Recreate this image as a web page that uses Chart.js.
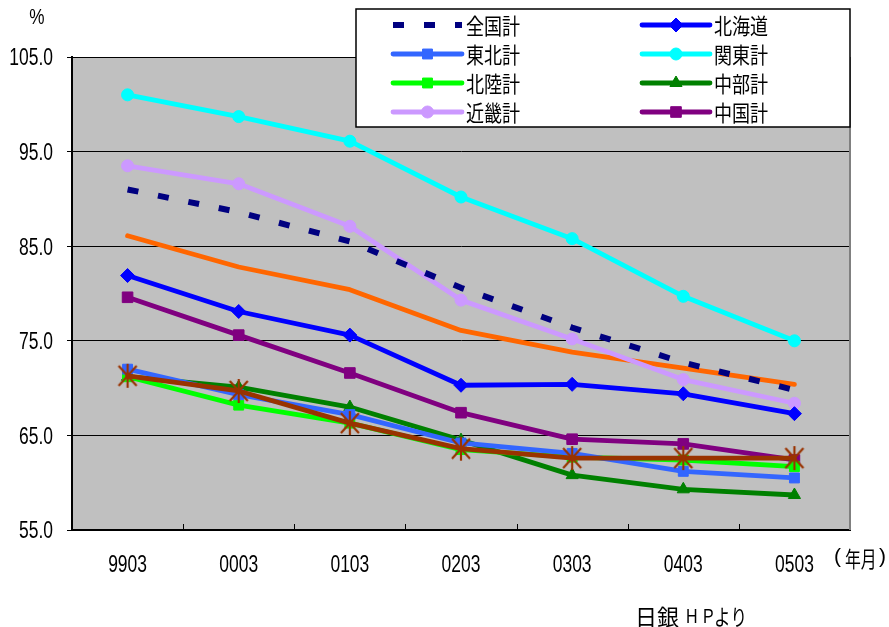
<!DOCTYPE html>
<html>
<head>
<meta charset="utf-8">
<script src="https://cdn.jsdelivr.net/npm/chart.js@4.4.1/dist/chart.umd.min.js"></script>
<style>
  html, body { margin: 0; padding: 0; background: #fff; }
  canvas { display: block; }
</style>
</head>
<body>
<canvas id="c" width="889" height="627"></canvas>
<script>
// 年月 (YYMM)
const categories = ['9903', '0003', '0103', '0203', '0303', '0403', '0503'];

// 地域別の値 (%)
const zenkoku  = [91.0, 88.6, 85.5, 80.6, 76.4, 72.7, 69.8];
const hokkaido = [81.9, 78.1, 75.6, 70.3, 70.4, 69.4, 67.3];
const tohoku   = [72.0, 69.3, 67.2, 64.2, 63.1, 61.2, 60.5];
const kanto    = [101.0, 98.7, 96.1, 90.2, 85.8, 79.7, 75.0];
const hokuriku = [71.2, 68.2, 66.3, 63.5, 62.7, 62.4, 61.7];
const chubu    = [71.2, 70.1, 68.0, 64.5, 60.8, 59.3, 58.7];
const kinki    = [93.5, 91.6, 87.1, 79.3, 75.2, 70.9, 68.4];
const chugoku  = [79.6, 75.6, 71.6, 67.4, 64.6, 64.1, 62.4];
const shikoku  = [86.1, 82.8, 80.4, 76.1, 73.8, 72.1, 70.4];
const kyushu   = [71.3, 69.7, 66.3, 63.6, 62.6, 62.6, 62.6];

// y 軸目盛
const yMin = 55, yMax = 105, yStep = 10;

const NUM_FONT = '"Liberation Sans", Arial, sans-serif';
const JP_FONT = '"Noto Sans CJK JP", sans-serif';

// 横幅を詰めた文字列を描く
function drawText(ctx, str, x, y, font, sx, align) {
  ctx.save();
  ctx.font = font;
  ctx.textAlign = align || 'left';
  ctx.textBaseline = 'middle';
  ctx.translate(x, y);
  ctx.scale(sx, 1);
  ctx.fillText(str, 0, 0);
  ctx.restore();
}

// 九州計の星形マーカー (× に縦線)
function starMarker(color) {
  const c = document.createElement('canvas');
  c.width = 22; c.height = 26;
  const g = c.getContext('2d');
  g.strokeStyle = color;
  g.lineWidth = 2.2;
  g.beginPath();
  g.moveTo(2, 3);  g.lineTo(20, 23);
  g.moveTo(20, 3); g.lineTo(2, 23);
  g.moveTo(11, 1); g.lineTo(11, 25);
  g.stroke();
  return c;
}

function series(label, data, color, style, radius, extra) {
  return Object.assign({
    label, data,
    borderColor: color,
    backgroundColor: color,
    borderWidth: 4.8,
    borderJoinStyle: 'round',
    borderCapStyle: 'round',
    pointStyle: style,
    pointRadius: radius,
    pointBackgroundColor: color,
    pointBorderColor: color,
    pointBorderWidth: 1,
    tension: 0,
    inLegend: true
  }, extra || {});
}

const datasets = [
  series('全国計', zenkoku, '#000080', false, 0, { borderWidth: 6, borderDash: [11, 20], borderCapStyle: 'butt' }),
  series('北海道', hokkaido, '#0000FF', 'rectRot', 7),
  series('東北計', tohoku, '#3366FF', 'rect', 7),
  series('関東計', kanto, '#00FFFF', 'circle', 6),
  series('北陸計', hokuriku, '#00FF00', 'rect', 7),
  series('中部計', chubu, '#008000', 'triangle', 7),
  series('近畿計', kinki, '#CC99FF', 'circle', 6),
  series('中国計', chugoku, '#800080', 'rect', 7.5),
  series('四国計', shikoku, '#FF6600', false, 0, { inLegend: false }),
  series('九州計', kyushu, '#993300', starMarker('#993300'), 11, { inLegend: false, order: -1 })
];

// 描画領域の背景・枠・内向き目盛
const plotFrame = {
  id: 'plotFrame',
  beforeDraw(chart) {
    const { ctx, chartArea: a } = chart;
    ctx.save();
    ctx.fillStyle = '#C0C0C0';
    ctx.fillRect(a.left, a.top, a.right - a.left, a.bottom - a.top);
    ctx.restore();
  },
  beforeDatasetsDraw(chart) {
    const { ctx, chartArea: a } = chart;
    ctx.save();
    ctx.strokeStyle = '#808080';
    ctx.lineWidth = 2;
    ctx.beginPath();
    ctx.moveTo(a.right, a.top);
    ctx.lineTo(a.right, a.bottom);
    ctx.stroke();
    ctx.strokeStyle = '#000';
    ctx.lineWidth = 1;
    const n = categories.length;
    const w = (a.right - a.left) / n;
    ctx.beginPath();
    for (let i = 1; i < n; i++) {
      const x = Math.round(a.left + i * w) + 0.5;
      ctx.moveTo(x, a.bottom - 6);
      ctx.lineTo(x, a.bottom);
    }
    ctx.stroke();
    ctx.restore();
  }
};

// 軸の目盛ラベル (細身の数字)
const axisLabels = {
  id: 'axisLabels',
  afterDraw(chart) {
    const ctx = chart.ctx;
    const xs = chart.scales.x, ys = chart.scales.y;
    ctx.save();
    ctx.fillStyle = '#000';
    ys.ticks.forEach(t => {
      drawText(ctx, Number(t.value).toFixed(1), 53, ys.getPixelForValue(t.value) + 2, '23px ' + NUM_FONT, 0.76, 'right');
    });
    categories.forEach((c, i) => {
      drawText(ctx, c, xs.getPixelForValue(i), 566, '23px ' + NUM_FONT, 0.76, 'center');
    });
    ctx.restore();
  }
};

// 凡例ボックスと注記
const boxLegend = {
  id: 'boxLegend',
  afterDraw(chart) {
    const ctx = chart.ctx;
    const L = 356, T = 9, R = 850, B = 127;
    ctx.save();
    ctx.fillStyle = '#fff';
    ctx.fillRect(L, T, R - L, B - T);
    ctx.strokeStyle = '#000';
    ctx.lineWidth = 1.5;
    ctx.strokeRect(L, T, R - L, B - T);

    const rows = [25, 54, 83, 112];
    const cols = [{ x0: 393, x1: 462, tx: 466 }, { x0: 642, x1: 710, tx: 714 }];
    let k = 0;
    chart.data.datasets.forEach(ds => {
      if (!ds.inLegend) return;
      const c = cols[k % 2], y = rows[Math.floor(k / 2)];
      k++;
      ctx.save();
      ctx.strokeStyle = ds.borderColor;
      ctx.lineWidth = ds.borderWidth;
      ctx.setLineDash(ds.borderDash || []);
      ctx.lineCap = ds.borderDash ? 'butt' : 'round';
      ctx.beginPath();
      ctx.moveTo(c.x0, y);
      ctx.lineTo(c.x1, y);
      ctx.stroke();
      ctx.restore();
      if (ds.pointRadius > 0) {
        ctx.save();
        ctx.fillStyle = ds.pointBackgroundColor;
        ctx.strokeStyle = ds.pointBorderColor;
        ctx.lineWidth = 1;
        Chart.helpers.drawPoint(ctx, { pointStyle: ds.pointStyle, radius: ds.pointRadius, rotation: 0, borderWidth: 1 }, (c.x0 + c.x1) / 2, y);
        ctx.restore();
      }
      ctx.fillStyle = '#000';
      drawText(ctx, ds.label, c.tx, y + 1, '22px ' + JP_FONT, 0.82, 'left');
    });

    // 単位・軸注記・出典
    ctx.fillStyle = '#000';
    drawText(ctx, '%', 37, 18, '22px ' + NUM_FONT, 0.78, 'center');
    drawText(ctx, '(', 834, 557, '21px ' + NUM_FONT, 1, 'left');
    drawText(ctx, '年月', 845, 559, '22px ' + JP_FONT, 0.72, 'left');
    drawText(ctx, ')', 879, 557, '21px ' + NUM_FONT, 1, 'left');

    drawText(ctx, '日銀', 635, 617, '22px ' + JP_FONT, 1, 'left');
    drawText(ctx, 'H', 686, 617, '20px ' + NUM_FONT, 0.8, 'left');
    drawText(ctx, 'P', 703, 617, '20px ' + NUM_FONT, 0.8, 'left');
    drawText(ctx, 'より', 714, 617, '22px ' + JP_FONT, 0.75, 'left');
    ctx.restore();
  }
};

new Chart(document.getElementById('c'), {
  type: 'line',
  data: { labels: categories, datasets },
  options: {
    responsive: false,
    animation: false,
    devicePixelRatio: 1,
    layout: { padding: { top: 57, right: 39, left: 0, bottom: 0 } },
    plugins: { legend: { display: false }, tooltip: { enabled: false } },
    scales: {
      x: {
        offset: true,
        grid: { display: false, drawTicks: false },
        border: { display: true, color: '#000', width: 2 },
        ticks: { display: false, autoSkip: false },
        afterFit(s) { s.height = 97; }
      },
      y: {
        min: yMin, max: yMax,
        ticks: { display: false, stepSize: yStep },
        grid: { color: '#000', lineWidth: 1, drawTicks: true, tickLength: 5, tickColor: '#000' },
        border: { display: true, color: '#000', width: 2 },
        afterFit(s) { s.width = 72; }
      }
    }
  },
  plugins: [plotFrame, axisLabels, boxLegend]
});
</script>
</body>
</html>
